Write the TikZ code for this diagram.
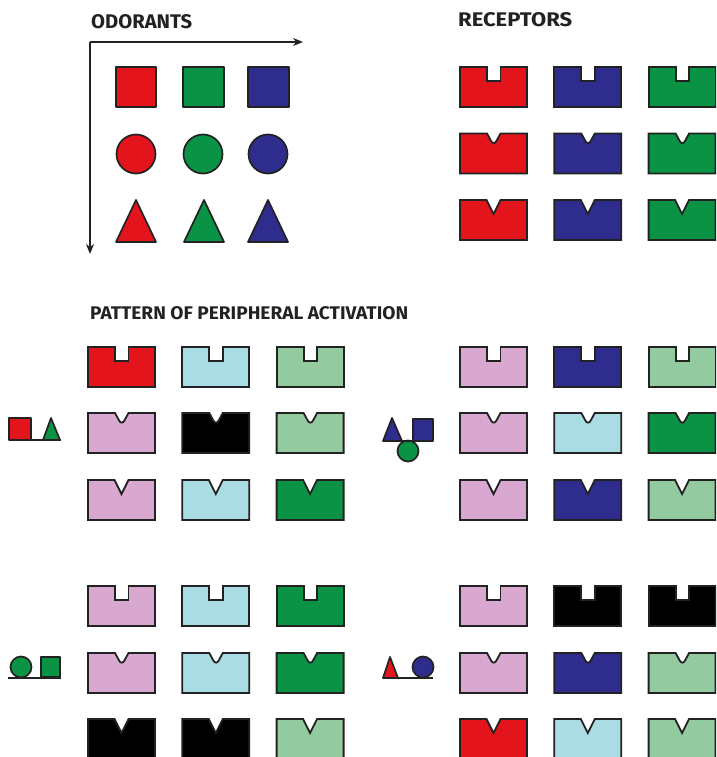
\documentclass[tikz,border=0pt]{standalone}
\usepackage{fontspec}
\newfontfamily\handfont{Fira Sans}
\usetikzlibrary{arrows.meta}
\definecolor{cred}{HTML}{E3141B}
\definecolor{cgreen}{HTML}{0A9245}
\definecolor{cblue}{HTML}{2E2C8C}
\definecolor{cpink}{HTML}{D8A8D0}
\definecolor{ccyan}{HTML}{A9DCE3}
\definecolor{clgreen}{HTML}{93CA9F}
\definecolor{cline}{HTML}{222222}
\newcommand\rrow[6]{%
  \pic[fill=#4] at (#1,#2) {#3};
  \pic[fill=#5] at ({#1+94.3},#2) {#3};
  \pic[fill=#6] at ({#1+188.6},#2) {#3};}
\begin{document}
\begin{tikzpicture}[x=1pt,y=-1pt,
  recep/.style={draw=cline,line width=1.8pt,line join=miter},
  odor/.style={draw=cline,line width=1.7pt,line join=round},
  txt/.style={inner sep=0pt,anchor=west,text=cline},
  axis/.style={draw=cline,line width=1.8pt,-{Stealth[length=10pt,width=8pt]}},
  rsq/.pic={\path[recep,pic actions] (0,0) -- (27,0) -- (27,14) -- (40.5,14) -- (40.5,0) -- (67,0) -- (67,40) -- (0,40) -- cycle;},
  rrd/.pic={\path[recep,pic actions] (0,0) -- (27,0) -- (30.8,7) .. controls (32.3,10.5) and (35.2,10.5) .. (36.7,7) -- (40.5,0) -- (67,0) -- (67,40) -- (0,40) -- cycle;},
  rv/.pic={\path[recep,pic actions] (0,0) -- (26.5,0) -- (33.5,14) -- (40.5,0) -- (67,0) -- (67,40) -- (0,40) -- cycle;}
]
\useasboundingbox (0,0) rectangle (716,757);
\clip (0,0) rectangle (716,757);

% titles
\node[txt] (todor) at (91,22) {\resizebox{101pt}{14pt}{\handfont\bfseries ODORANTS}};
\node[txt] (trec) at (458,20) {\resizebox{114pt}{14pt}{\handfont\bfseries RECEPTORS}};
\node[txt] (tpat) at (90,313.5) {\resizebox{318pt}{13pt}{\handfont\bfseries PATTERN OF PERIPHERAL ACTIVATION}};

% axes
\coordinate (ax) at (90,42);
\coordinate (axr) at (303,42);
\coordinate (axd) at (90,254);
\draw[axis] (ax) -- (axr);
\draw[axis] (ax) -- (axd);

% odorants
\draw[odor,fill=cred] (116,67) rectangle (156,107);
\draw[odor,fill=cgreen] (183,67) rectangle (224,107);
\draw[odor,fill=cblue] (248,67) rectangle (289,107);
\draw[odor,fill=cred] (136,154) circle (19.5);
\draw[odor,fill=cgreen] (203,154) circle (19.5);
\draw[odor,fill=cblue] (268,154) circle (19.5);
\draw[odor,fill=cred] (116,242) -- (136,200) -- (156,242) -- cycle;
\draw[odor,fill=cgreen] (184,242) -- (204,200) -- (224,242) -- cycle;
\draw[odor,fill=cblue] (248,242) -- (268,200) -- (288,242) -- cycle;

% receptors
\rrow{460}{67}{rsq}{cred}{cblue}{cgreen}
\rrow{460}{133.5}{rrd}{cred}{cblue}{cgreen}
\rrow{460}{200}{rv}{cred}{cblue}{cgreen}

% pattern 1 : red square + green triangle
\rrow{88}{347}{rsq}{cred}{ccyan}{clgreen}
\rrow{88}{413}{rrd}{cpink}{black}{clgreen}
\rrow{88}{480}{rv}{cpink}{ccyan}{cgreen}
\draw[odor,fill=cred] (9,418) rectangle (31,440);
\draw[odor,fill=cgreen] (43,440) -- (51,418) -- (60,440) -- cycle;
\draw[odor] (9,440) -- (61,440);

% pattern 2 : blue triangle + blue square + green circle
\rrow{460}{347}{rsq}{cpink}{cblue}{clgreen}
\rrow{460}{413}{rrd}{cpink}{ccyan}{cgreen}
\rrow{460}{480}{rv}{cpink}{cblue}{clgreen}
\draw[odor,fill=cgreen] (408,451) circle (10.5);
\draw[odor,fill=cblue] (383,441) -- (392,418) -- (402,441) -- cycle;
\draw[odor,fill=cblue] (413,419) rectangle (433,441);
\draw[odor] (383,441) -- (433,441);

% pattern 3 : green circle + green square
\rrow{88}{586}{rsq}{cpink}{ccyan}{cgreen}
\rrow{88}{653}{rrd}{cpink}{ccyan}{cgreen}
\rrow{88}{719}{rv}{black}{black}{clgreen}
\draw[odor,fill=cgreen] (21,667) circle (10.5);
\draw[odor,fill=cgreen] (41,657) rectangle (60,677);
\draw[odor] (8,678) -- (61,678);

% pattern 4 : red triangle + blue circle
\rrow{460}{586}{rsq}{cpink}{black}{black}
\rrow{460}{653}{rrd}{cpink}{cblue}{clgreen}
\rrow{460}{719}{rv}{cred}{ccyan}{clgreen}
\draw[odor,fill=cred] (383,678) -- (390,657) -- (398,678) -- cycle;
\draw[odor,fill=cblue] (423,667) circle (10.5);
\draw[odor] (383,678) -- (433,678);
\end{tikzpicture}
\end{document}
